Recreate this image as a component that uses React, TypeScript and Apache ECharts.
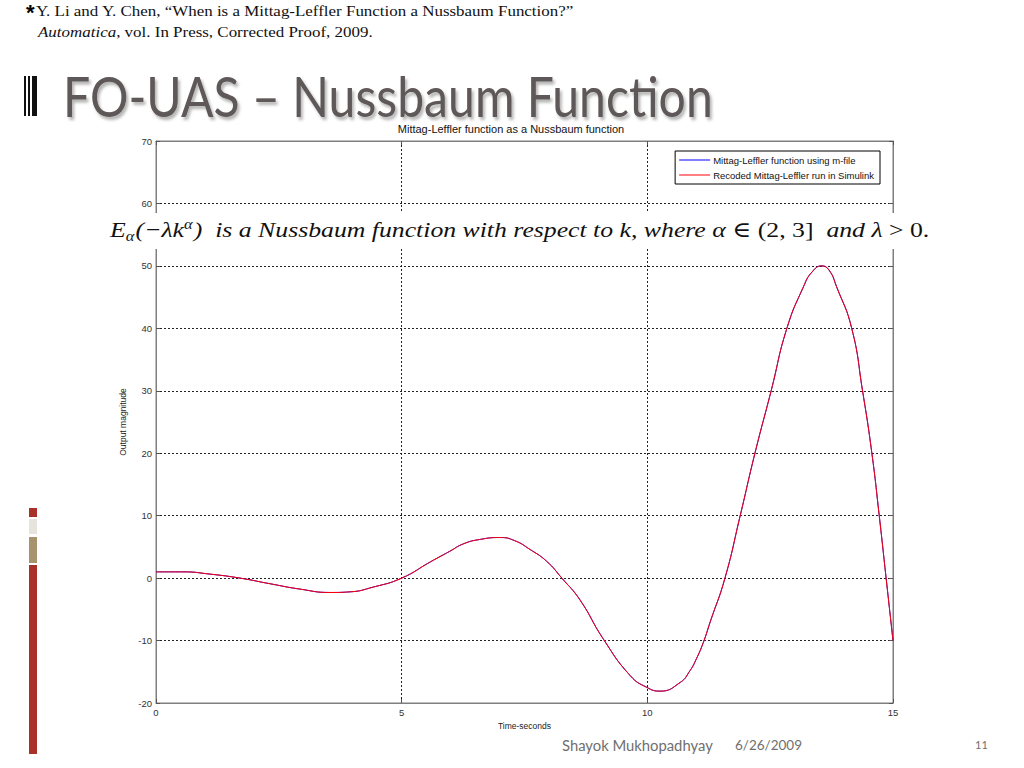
import React, { useEffect, useRef } from "react";
import * as echarts from "echarts";

const times = [0, 0.55, 1.1, 1.71, 2.32, 2.93, 3.54, 3.95, 4.42, 5.0, 5.58, 5.98, 6.26, 6.6, 7.0, 7.3, 7.61, 7.95, 8.26, 8.63, 9.1, 9.65, 9.99, 10.26, 10.67, 10.87, 11.0, 11.14, 11.28, 11.58, 11.89, 12.19, 12.52, 12.84, 13.18, 13.35, 13.55, 13.7, 13.85, 14.16, 14.38, 14.57, 14.72, 14.86, 15.0];
const mfileValues = [1.0, 1.0, 0.64, 0, -0.9, -1.76, -2.3, -2.2, -1.44, 0, 2.58, 4.3, 5.5, 6.2, 6.5, 6.0, 4.6, 2.7, 0, -3.5, -9.7, -15.6, -17.5, -18.1, -16.7, -14.8, -12.9, -10.3, -7.0, 0, 10, 20, 30, 40, 46.7, 49.0, 50, 49.3, 46.7, 40, 30, 20, 10, 0, -10];
const simulinkValues = [1.0, 1.0, 0.64, 0, -0.9, -1.76, -2.3, -2.2, -1.44, 0, 2.58, 4.3, 5.5, 6.2, 6.5, 6.0, 4.6, 2.7, 0, -3.5, -9.7, -15.6, -17.5, -18.1, -16.7, -14.8, -12.9, -10.3, -7.0, 0, 10, 20, 30, 40, 46.7, 49.0, 50, 49.3, 46.7, 40, 30, 20, 10, 0, -10];
const seriesNames = ["Mittag-Leffler function using m-file", "Recoded Mittag-Leffler run in Simulink"];
const seriesColors = ["#0000ff", "#ff0000"];
const chartTitle = "Mittag-Leffler function as a Nussbaum function";
const xName = "Time-seconds";
const yName = "Output magnitude";

const SANS = "'Liberation Sans', Arial, sans-serif";
const SERIF = "'Liberation Serif', 'DejaVu Serif', serif";
const SLIDE = "Lato, 'Open Sans', sans-serif";

export default function App() {
  const ref = useRef<HTMLDivElement>(null);
  useEffect(() => {
    if (!ref.current) return;
    const chart = echarts.init(ref.current, undefined, { renderer: "svg" });
    const tickCommon = { show: true, inside: true, length: 4, lineStyle: { color: "#555" } };
    const formulaSize = 22;
    const option: any = {
      animation: false,
      backgroundColor: "#fff",
      grid: { left: 156, right: 131, top: 141, bottom: 65, show: true, borderColor: "#7f7f7f", borderWidth: 1, backgroundColor: "#fff" },
      legend: {
        data: seriesNames.map((n, i) => ({ name: n, icon: "rect", itemStyle: { color: seriesColors[i] } })),
        orient: "vertical",
        right: 144,
        top: 151,
        backgroundColor: "#fff",
        borderColor: "#000",
        borderWidth: 1,
        borderRadius: 0,
        padding: [4, 6, 4, 4],
        itemGap: 5,
        itemWidth: 31,
        itemHeight: 1,
        textStyle: { fontFamily: SANS, fontSize: 9.5, color: "#111", padding: [0, 0, 0, -2] },
      },
      xAxis: [
        {
          type: "value", min: 0, max: 15, interval: 5,
          name: xName, nameLocation: "middle", nameGap: 17,
          nameTextStyle: { fontFamily: SANS, fontSize: 8.5, color: "#222" },
          axisLine: { show: true, onZero: false, lineStyle: { color: "#7f7f7f" } },
          axisTick: tickCommon,
          axisLabel: { fontFamily: SANS, fontSize: 9.5, color: "#333", margin: 4 },
          splitLine: { show: true, lineStyle: { color: "#222", type: [2, 2], width: 1 } },
        },
        {
          type: "value", min: 0, max: 15, interval: 5, position: "top",
          axisLine: { show: true, onZero: false, lineStyle: { color: "#7f7f7f" } },
          axisTick: tickCommon, axisLabel: { show: false }, splitLine: { show: false },
        },
      ],
      yAxis: [
        {
          type: "value", min: -20, max: 70, interval: 10,
          name: yName, nameLocation: "middle", nameGap: 25, nameRotate: 90,
          nameTextStyle: { fontFamily: SANS, fontSize: 8.5, color: "#222" },
          axisLine: { show: true, onZero: false, lineStyle: { color: "#7f7f7f" } },
          axisTick: tickCommon,
          axisLabel: { fontFamily: SANS, fontSize: 9.5, color: "#333", margin: 4 },
          splitLine: { show: true, lineStyle: { color: "#222", type: [2, 2], width: 1 } },
        },
        {
          type: "value", min: -20, max: 70, interval: 10, position: "right",
          axisLine: { show: true, onZero: false, lineStyle: { color: "#7f7f7f" } },
          axisTick: tickCommon, axisLabel: { show: false }, splitLine: { show: false },
        },
      ],
      series: [
        {
          name: seriesNames[0], type: "line", symbol: "none", smooth: 0.5,
          data: times.map((t, i) => [t, mfileValues[i]]),
          lineStyle: { color: seriesColors[0], width: 1 }, itemStyle: { color: seriesColors[0] },
        },
        {
          name: seriesNames[1], type: "line", symbol: "none", smooth: 0.5,
          data: times.map((t, i) => [t, simulinkValues[i]]),
          lineStyle: { color: seriesColors[1], width: 1 }, itemStyle: { color: seriesColors[1] },
        },
      ],
      graphic: [
        // citation
        {
          type: "text", x: 26, y: 1,
          style: { text: "*", fontFamily: SANS, fontSize: 22, fontWeight: "bold", fill: "#000" },
        },
        {
          type: "text", x: 36, y: 3, scaleX: 1.13,
          style: { text: "Y. Li and Y. Chen, \u201cWhen is a Mittag-Leffler Function a Nussbaum Function?\u201d", fontFamily: SERIF, fontSize: 15, fill: "#111" },
        },
        {
          type: "text", x: 38, y: 24, scaleX: 1.13,
          style: {
            text: "{i|Automatica}, vol. In Press, Corrected Proof, 2009.",
            fontFamily: SERIF, fontSize: 15, fill: "#111",
            rich: { i: { fontFamily: SERIF, fontSize: 15, fontStyle: "italic", fill: "#111" } },
          },
        },
        // title icon
        { type: "rect", shape: { x: 24, y: 76, width: 2, height: 40 }, style: { fill: "#111" } },
        { type: "rect", shape: { x: 28, y: 76, width: 2, height: 40 }, style: { fill: "#111" } },
        { type: "rect", shape: { x: 32, y: 76, width: 5, height: 40 }, style: { fill: "#111" } },
        // title
        {
          type: "text", x: 63, y: 67, scaleX: 0.86,
          style: {
            text: "FO-UAS \u2013 Nussbaum Function", fontFamily: SLIDE, fontSize: 56,
            fill: "#5f5858", textShadowColor: "rgba(0,0,0,0.3)", textShadowBlur: 3, textShadowOffsetX: 2, textShadowOffsetY: 3,
          },
        },
        // chart title
        {
          type: "text", x: 511, y: 124, scaleX: 1.1,
          style: { text: chartTitle, fontFamily: SANS, fontSize: 10, fill: "#111", align: "center" },
        },
        // formula strip
        { type: "rect", shape: { x: 104, y: 213, width: 834, height: 36 }, style: { fill: "#fff" }, z: 100 },
        {
          type: "text", x: 110, y: 217, z: 101, scaleX: 1.17,
          style: {
            text: "{e|E}{s|\u03b1}{e|(\u2212\u03bbk}{p|\u03b1}{e|)  is a Nussbaum function with respect to k, where \u03b1 \u2208 }{r|(2, 3]}{e|  and \u03bb }{r|> 0.}",
            fontFamily: SERIF, fontSize: formulaSize, fill: "#111",
            rich: {
              e: { fontFamily: SERIF, fontSize: formulaSize, fontStyle: "italic", fill: "#111", height: 26, lineHeight: 26 },
              r: { fontFamily: SERIF, fontSize: formulaSize, fill: "#111", height: 26, lineHeight: 26 },
              s: { fontFamily: SERIF, fontSize: 14, lineHeight: 14, height: 14, fontStyle: "italic", fill: "#111", padding: [12, 1, 0, 0] },
              p: { fontFamily: SERIF, fontSize: 14, lineHeight: 14, height: 14, fontStyle: "italic", fill: "#111", padding: [0, 1, 12, 0] },
            },
          },
        },
        // left decorations
        { type: "rect", shape: { x: 29, y: 508, width: 8, height: 9 }, style: { fill: "#a8322a" } },
        { type: "rect", shape: { x: 29, y: 519, width: 8, height: 15 }, style: { fill: "#e7e4de" } },
        { type: "rect", shape: { x: 29, y: 537, width: 8, height: 26 }, style: { fill: "#a8936f" } },
        { type: "rect", shape: { x: 29, y: 565, width: 8, height: 189 }, style: { fill: "#a8322a" } },
        // footer
        {
          type: "text", x: 562, y: 737,
          style: { text: "Shayok Mukhopadhyay", fontFamily: SLIDE, fontSize: 14.8, fill: "#6f6f6f" },
        },
        {
          type: "text", x: 735, y: 738,
          style: { text: "6/26/2009", fontFamily: SLIDE, fontSize: 13.5, fill: "#6f6f6f" },
        },
        {
          type: "text", x: 975, y: 739,
          style: { text: "11", fontFamily: SLIDE, fontSize: 11, fill: "#6f6f6f" },
        },
      ],
    };
    chart.setOption(option);
    return () => chart.dispose();
  }, []);
  return <div ref={ref} style={{ position: "absolute", left: 0, top: 0, width: 1024, height: 768 }} />;
}
